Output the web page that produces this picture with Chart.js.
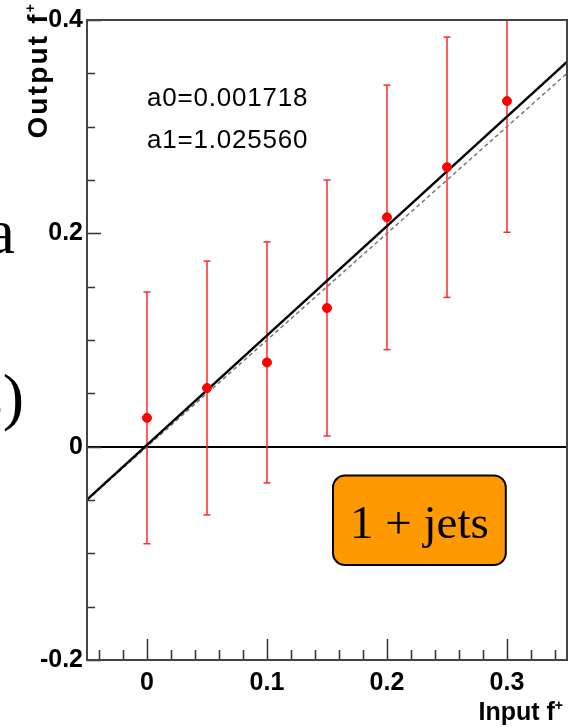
<!DOCTYPE html>
<html>
<head>
<meta charset="utf-8">
<script src="https://cdn.jsdelivr.net/npm/chart.js@4.4.0/dist/chart.umd.min.js"></script>
<style>
  html, body { margin: 0; padding: 0; background: #fff; }
  canvas { display: block; }
</style>
</head>
<body>
<canvas id="fitChart" width="568" height="727"></canvas>
<script>
// measured output vs input fraction
let inputF = [0, 0.05, 0.1, 0.15, 0.2, 0.25, 0.3];
let outputF = [0.027, 0.055, 0.079, 0.130, 0.215, 0.262, 0.324];
let outputErr = [0.118, 0.119, 0.113, 0.120, 0.124, 0.122, 0.123];

// fit line end points and the y = x diagonal
let fitX = [-0.05, 0.35];
let fitY = [-0.0496, 0.3607];
let diagX = [-0.05, 0.35];
let diagY = [-0.05, 0.35];

let xTicks = [0, 0.1, 0.2, 0.3];
let xLabels = ['0', '0.1', '0.2', '0.3'];
let yTicks = [-0.2, 0, 0.2, 0.4];
let yLabels = ['-0.2', '0', '0.2', '0.4'];

let fitText = ['a0=0.001718', 'a1=1.025560'];
let boxText = '1 + jets';

const sans = '"Liberation Sans", Arial, sans-serif';
const serif = '"Liberation Serif", "Times New Roman", serif';

// error bars: two points per bar, null breaks the line
let errData = [];
inputF.forEach((x, i) => {
    errData.push({ x: x, y: outputF[i] - outputErr[i] });
    errData.push({ x: x, y: outputF[i] + outputErr[i] });
    errData.push({ x: x, y: null });
});

let pointData = inputF.map((x, i) => ({ x: x, y: outputF[i] }));
let fitData = fitX.map((x, i) => ({ x: x, y: fitY[i] }));
let diagData = diagX.map((x, i) => ({ x: x, y: diagY[i] }));

// frame, inner ticks and the text bits
const rootStyle = {
    id: 'rootStyle',
    afterDatasetsDraw(chart) {
        const ctx = chart.ctx;
        const a = chart.chartArea;
        const xs = chart.scales.x;
        const ys = chart.scales.y;

        ctx.save();
        ctx.strokeStyle = '#333';
        ctx.lineWidth = 1.5;
        ctx.beginPath();
        // x ticks every 0.02, long every 0.1
        for (let k = -2; k <= 17; k++) {
            const px = Math.round(xs.getPixelForValue(k * 0.02)) + 0.5;
            const len = k % 5 === 0 ? 21 : 10;
            ctx.moveTo(px, a.bottom);
            ctx.lineTo(px, a.bottom - len);
        }
        // y ticks every 0.05, long every 0.2
        for (let k = -4; k <= 8; k++) {
            const py = Math.round(ys.getPixelForValue(k * 0.05)) + 0.5;
            const len = k % 4 === 0 ? 14 : 8;
            ctx.moveTo(a.left, py);
            ctx.lineTo(a.left + len, py);
        }
        ctx.stroke();

        ctx.lineWidth = 2;
        ctx.strokeStyle = '#444';
        ctx.strokeRect(a.left, a.top, a.right - a.left, a.bottom - a.top);
        ctx.restore();
    },
    afterDraw(chart) {
        const ctx = chart.ctx;
        const xs = chart.scales.x;
        const ys = chart.scales.y;

        ctx.save();
        ctx.fillStyle = '#000';

        // fit parameters
        ctx.font = '26px ' + sans;
        ctx.letterSpacing = '0.8px';
        ctx.textAlign = 'left';
        ctx.textBaseline = 'alphabetic';
        ctx.fillText(fitText[0], xs.getPixelForValue(0), ys.getPixelForValue(0.319));
        ctx.fillText(fitText[1], xs.getPixelForValue(0), ys.getPixelForValue(0.280));
        ctx.letterSpacing = '0px';

        // orange label box
        const bx0 = xs.getPixelForValue(0.155), bx1 = xs.getPixelForValue(0.299);
        const by0 = ys.getPixelForValue(-0.027), by1 = ys.getPixelForValue(-0.111);
        const r = 12;
        ctx.beginPath();
        ctx.moveTo(bx0 + r, by0);
        ctx.arcTo(bx1, by0, bx1, by1, r);
        ctx.arcTo(bx1, by1, bx0, by1, r);
        ctx.arcTo(bx0, by1, bx0, by0, r);
        ctx.arcTo(bx0, by0, bx1, by0, r);
        ctx.closePath();
        ctx.fillStyle = '#ff9900';
        ctx.fill();
        ctx.lineWidth = 2;
        ctx.strokeStyle = '#000';
        ctx.stroke();
        ctx.fillStyle = '#000';
        ctx.font = '47px ' + serif;
        ctx.textAlign = 'center';
        ctx.fillText(boxText, (bx0 + bx1) / 2, (by0 + by1) / 2 + 18);

        // axis titles
        ctx.textAlign = 'right';
        ctx.font = 'bold 14px ' + sans;
        const plusW = ctx.measureText('+').width;
        ctx.fillText('+', 563, 710);
        ctx.font = 'bold 25px ' + sans;
        ctx.fillText('Input f', 563 - plusW, 720);

        ctx.save();
        ctx.translate(47, 4);
        ctx.rotate(-Math.PI / 2);
        ctx.font = 'bold 14px ' + sans;
        ctx.fillText('+', 0, -12);
        ctx.font = 'bold 28px ' + sans;
        ctx.letterSpacing = '2.2px';
        ctx.fillText('Output f', -plusW, 0);
        ctx.restore();

        // pieces of slide text cut by the left edge
        ctx.font = '64px ' + serif;
        ctx.textAlign = 'right';
        ctx.fillText('a', 15, 253);
        ctx.fillText('s)', 24, 418);
        ctx.restore();
    }
};

const tickFont = { family: sans, size: 25, weight: 'bold' };

new Chart(document.getElementById('fitChart').getContext('2d'), {
    type: 'scatter',
    data: {
        datasets: [
            {
                type: 'line',
                data: errData,
                borderColor: '#ff2a2a',
                borderWidth: 1.5,
                pointStyle: 'line',
                pointRadius: 3.5,
                pointBorderColor: '#ff2a2a',
                pointBorderWidth: 1.5,
                spanGaps: false,
                order: 4
            },
            {
                type: 'line',
                data: diagData,
                borderColor: '#777',
                borderDash: [4, 3],
                borderWidth: 1.5,
                pointRadius: 0,
                order: 3
            },
            {
                type: 'line',
                data: fitData,
                borderColor: '#000',
                borderWidth: 2.5,
                pointRadius: 0,
                order: 2
            },
            {
                data: pointData,
                backgroundColor: '#ff0000',
                borderColor: '#ff0000',
                pointRadius: 4.5,
                order: 1
            }
        ]
    },
    options: {
        responsive: false,
        animation: false,
        events: [],
        layout: { autoPadding: false, padding: { top: 20, right: 1, left: 0, bottom: 0 } },
        plugins: {
            legend: { display: false },
            tooltip: { enabled: false }
        },
        scales: {
            x: {
                type: 'linear',
                min: -0.05,
                max: 0.35,
                afterBuildTicks: s => { s.ticks = xTicks.map(v => ({ value: v })); },
                afterFit: s => { s.height = 67; s.paddingLeft = 0; s.paddingRight = 0; },
                grid: { display: false, drawTicks: false },
                border: { display: false },
                ticks: {
                    callback: (v, i) => xLabels[i],
                    font: tickFont,
                    color: '#000',
                    padding: 8,
                    maxRotation: 0,
                    autoSkip: false
                }
            },
            y: {
                type: 'linear',
                min: -0.2,
                max: 0.4,
                afterBuildTicks: s => { s.ticks = yTicks.map(v => ({ value: v })); },
                afterFit: s => { s.width = 87; s.paddingTop = 0; s.paddingBottom = 0; },
                grid: {
                    drawTicks: false,
                    color: c => (c.tick && c.tick.value === 0 ? '#000' : 'rgba(0,0,0,0)'),
                    lineWidth: 2
                },
                border: { display: false },
                ticks: {
                    callback: (v, i) => yLabels[i],
                    font: tickFont,
                    color: '#000',
                    padding: 4,
                    autoSkip: false
                }
            }
        }
    },
    plugins: [rootStyle]
});
</script>
</body>
</html>
